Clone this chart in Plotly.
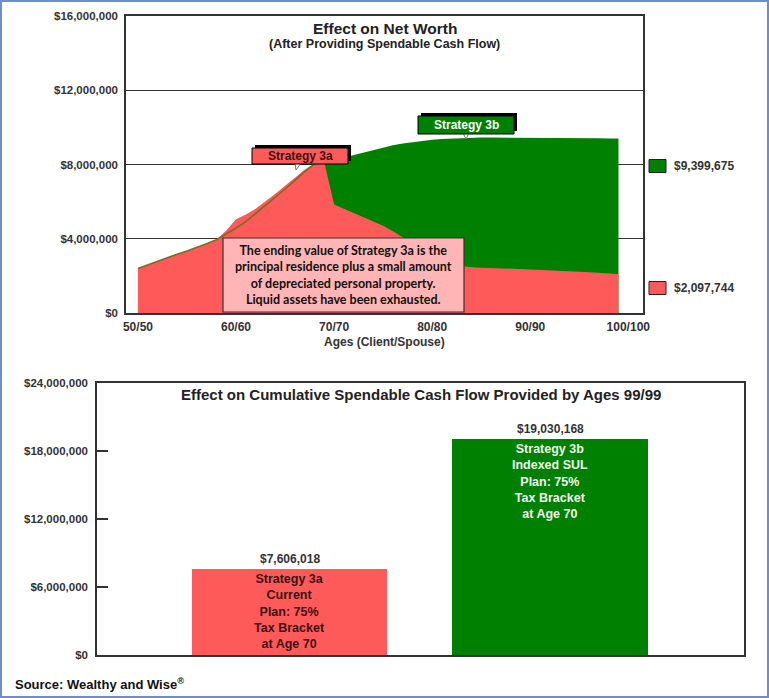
import plotly.graph_objects as go

W, H = 769, 698


def px(x):
    return x / W


def py(y):
    return 1 - y / H


# ---------------- data ----------------
ages = list(range(50, 100))

# Strategy 3a net worth (red area), ages 50..99
strategy_3a = [
    2.40e6, 2.60e6, 2.81e6, 3.00e6, 3.17e6, 3.34e6, 3.52e6, 3.73e6, 3.95e6, 4.45e6,   # 50-59
    5.05e6, 5.30e6, 5.62e6, 6.00e6, 6.42e6, 6.85e6, 7.30e6, 7.72e6, 8.05e6, 8.12e6,   # 60-69
    5.85e6, 5.62e6, 5.42e6, 5.20e6, 4.95e6, 4.70e6, 4.40e6, 4.08e6, 3.65e6, 3.28e6,   # 70-79
    2.98e6, 2.74e6, 2.60e6, 2.51e6, 2.46e6, 2.44e6, 2.43e6, 2.41e6, 2.39e6, 2.37e6,   # 80-89
    2.35e6, 2.33e6, 2.31e6, 2.28e6, 2.25e6, 2.22e6, 2.19e6, 2.16e6, 2.13e6, 2097744,  # 90-99
]

# Strategy 3b net worth (green area), ages 50..99
strategy_3b = [
    2.40e6, 2.60e6, 2.81e6, 3.00e6, 3.17e6, 3.34e6, 3.52e6, 3.73e6, 3.95e6, 4.25e6,   # 50-59
    4.58e6, 4.92e6, 5.35e6, 5.77e6, 6.22e6, 6.68e6, 7.15e6, 7.62e6, 8.02e6, 8.10e6,   # 60-69
    8.20e6, 8.38e6, 8.52e6, 8.66e6, 8.80e6, 8.93e6, 9.04e6, 9.13e6, 9.21e6, 9.28e6,   # 70-79
    9.33e6, 9.37e6, 9.40e6, 9.42e6, 9.44e6, 9.45e6, 9.45e6, 9.45e6, 9.45e6, 9.45e6,   # 80-89
    9.44e6, 9.44e6, 9.43e6, 9.43e6, 9.42e6, 9.42e6, 9.41e6, 9.41e6, 9.40e6, 9399675,  # 90-99
]

age_tick_vals = [50, 60, 70, 80, 90, 100]
age_tick_text = ["50/50", "60/60", "70/70", "80/80", "90/90", "100/100"]
networth_tick_vals = [0, 4e6, 8e6, 12e6, 16e6]

cash_categories = ["Strategy 3a", "Strategy 3b"]
cash_values = [7606018, 19030168]
cash_labels = [
    "Strategy 3a<br>Current<br>Plan: 75%<br>Tax Bracket<br>at Age 70",
    "Strategy 3b<br>Indexed SUL<br>Plan: 75%<br>Tax Bracket<br>at Age 70",
]
cash_tick_vals = [0, 6e6, 12e6, 18e6, 24e6]

# ---------------- styles ----------------
RED = "#ff5a5a"
GREEN = "#008000"
PINK = "#ffb5b5"
DARK = "#333333"
OLIVE = "#7d6b22"
FONT = "Liberation Sans, Arial, sans-serif"

fig = go.Figure()

# Top chart: green area behind, red area in front, olive line for 3b pre-divergence
fig.add_trace(go.Scatter(x=ages, y=strategy_3b, mode="lines", line=dict(width=0, color=GREEN),
                         fill="tozeroy", fillcolor=GREEN, xaxis="x", yaxis="y",
                         showlegend=False, hoverinfo="skip"))
fig.add_trace(go.Scatter(x=ages, y=strategy_3a, mode="lines", line=dict(width=0, color=RED),
                         fill="tozeroy", fillcolor=RED, xaxis="x", yaxis="y",
                         showlegend=False, hoverinfo="skip"))
n_pre = ages.index(69) + 1
fig.add_trace(go.Scatter(x=ages[:n_pre], y=strategy_3b[:n_pre], mode="lines",
                         line=dict(width=1.6, color=OLIVE), xaxis="x", yaxis="y",
                         showlegend=False, hoverinfo="skip"))

# Bottom chart: bars
fig.add_trace(go.Bar(x=cash_categories, y=cash_values, marker=dict(color=[RED, GREEN], line=dict(width=0)),
                     width=0.75, text=cash_labels, textposition="inside", insidetextanchor="end",
                     textfont=dict(family=FONT, size=12.5, color=["#3a1414", "#f2f7ee"], weight="bold"),
                     textangle=0, xaxis="x2", yaxis="y2", showlegend=False, hoverinfo="skip",
                     cliponaxis=False))

axis_common = dict(showline=True, mirror=True, linecolor=DARK, linewidth=1.5, zeroline=False,
                   automargin=False)

fig.update_layout(
    template="none",
    width=W, height=H, autosize=False,
    margin=dict(l=0, r=0, t=0, b=0, pad=0, autoexpand=False),
    paper_bgcolor="white", plot_bgcolor="white",
    font=dict(family=FONT, color=DARK),
    xaxis=dict(domain=[px(126), px(643)], range=[48.78, 101.5], anchor="y",
               tickvals=age_tick_vals, ticktext=age_tick_text, showgrid=False, ticks="",
               tickfont=dict(size=12, weight="bold", color=DARK), ticklabelstandoff=2,
               layer="below traces", **axis_common),
    yaxis=dict(domain=[py(313), py(16)], range=[0, 16e6], anchor="x",
               tickvals=networth_tick_vals, tickformat="$,.0f", showgrid=True,
               gridcolor=DARK, gridwidth=1, ticks="",
               tickfont=dict(size=11.5, weight="bold", color=DARK), ticklabelstandoff=4,
               **axis_common),
    xaxis2=dict(domain=[px(97), px(744)], range=[-0.742, 1.746], anchor="y2", type="category",
                showticklabels=False, showgrid=False, ticks="", **axis_common),
    yaxis2=dict(domain=[py(655), py(383)], range=[0, 24e6], anchor="x2",
                tickvals=cash_tick_vals, tickformat="$,.0f", showgrid=False,
                ticks="inside", ticklen=11, tickwidth=1.5, tickcolor=DARK,
                tickfont=dict(size=11.5, weight="bold", color=DARK), ticklabelstandoff=5,
                **axis_common),
    bargap=0,
)

shapes = []
annotations = []


def note(text, x, y, size, color="#222", xanchor="center", yanchor="middle", family=None):
    f = dict(size=size, color=color)
    if family:
        f["family"] = family
    annotations.append(dict(text=text, x=px(x), y=py(y), xref="paper", yref="paper",
                            xanchor=xanchor, yanchor=yanchor, showarrow=False, font=f))


# outer border
shapes.append(dict(type="rect", xref="paper", yref="paper", x0=px(1), x1=px(768), y0=py(697), y1=py(1),
                   line=dict(color="#6f8fc4", width=2), fillcolor="rgba(0,0,0,0)", layer="above"))

# titles
note("<b>Effect on Net Worth</b>", 384.5, 28, 15.5)
note("<b>(After Providing Spendable Cash Flow)</b>", 384.5, 44, 12.5)
note("<b>Ages (Client/Spouse)</b>", 384.5, 342, 12, DARK)
note("<b>Effect on Cumulative Spendable Cash Flow Provided by Ages 99/99</b>", 420.5, 394, 15)
note("<b>Source: Wealthy and Wise<sup>®</sup></b>", 13, 684, 13, "#111", xanchor="left")

# explanatory pink box
shapes.append(dict(type="rect", xref="paper", yref="paper", x0=px(223), x1=px(464), y0=py(312), y1=py(238),
                   fillcolor=PINK, line=dict(color=DARK, width=1.2), layer="above"))
note("<b>The ending value of Strategy 3a is the<br>principal residence plus a small amount"
     "<br>of depreciated personal property.<br>Liquid assets have been exhausted.</b>",
     343.5, 275, 12.5, "#111", family="Lato, Liberation Sans, sans-serif")


def label_box(x0, y0, x1, y1, fill, text, color):
    # black 3D offset behind
    shapes.append(dict(type="rect", xref="paper", yref="paper", x0=px(x0 + 3), x1=px(x1 + 3),
                       y0=py(y1 - 3), y1=py(y0 - 3), fillcolor="#000", line=dict(width=0), layer="above"))
    shapes.append(dict(type="rect", xref="paper", yref="paper", x0=px(x0), x1=px(x1), y0=py(y1), y1=py(y0),
                       fillcolor=fill, line=dict(color="#000", width=1), layer="above"))
    note("<b>" + text + "</b>", (x0 + x1) / 2, (y0 + y1) / 2, 12, color)


def pointer(x, y, dx, dy):
    path = "M {} {} L {} {} L {} {} Z".format(px(x - 3), py(y), px(x + 3), py(y), px(x + dx), py(y + dy))
    shapes.append(dict(type="path", xref="paper", yref="paper", path=path, fillcolor="white",
                       line=dict(color="#777", width=1), layer="above"))


pointer(298, 163, -2, 7)
label_box(252, 148, 348, 164, RED, "Strategy 3a", "#3a1414")
pointer(466, 133, 0, 6)
label_box(418, 116, 514, 134, GREEN, "Strategy 3b", "white")

# right-side ending values
for val, color, yc in [(strategy_3b[-1], GREEN, 166), (strategy_3a[-1], RED, 288)]:
    shapes.append(dict(type="rect", xref="paper", yref="paper", x0=px(649), x1=px(666),
                       y0=py(yc + 6.5), y1=py(yc - 6.5), fillcolor=color,
                       line=dict(color="#222", width=1)))
    note("<b>${:,.0f}</b>".format(val), 672, yc, 12, DARK, xanchor="left")

# bar value labels
for cat, val in zip(cash_categories, cash_values):
    annotations.append(dict(text="<b>${:,.0f}</b>".format(val), x=cat, y=val, xref="x2", yref="y2",
                            xanchor="center", yanchor="bottom", yshift=1, showarrow=False,
                            font=dict(size=12, color=DARK)))

fig.update_layout(shapes=shapes, annotations=annotations)
fig.write_html("out.html", config={"displayModeBar": False},
               post_script="document.body.style.margin='0px';")
